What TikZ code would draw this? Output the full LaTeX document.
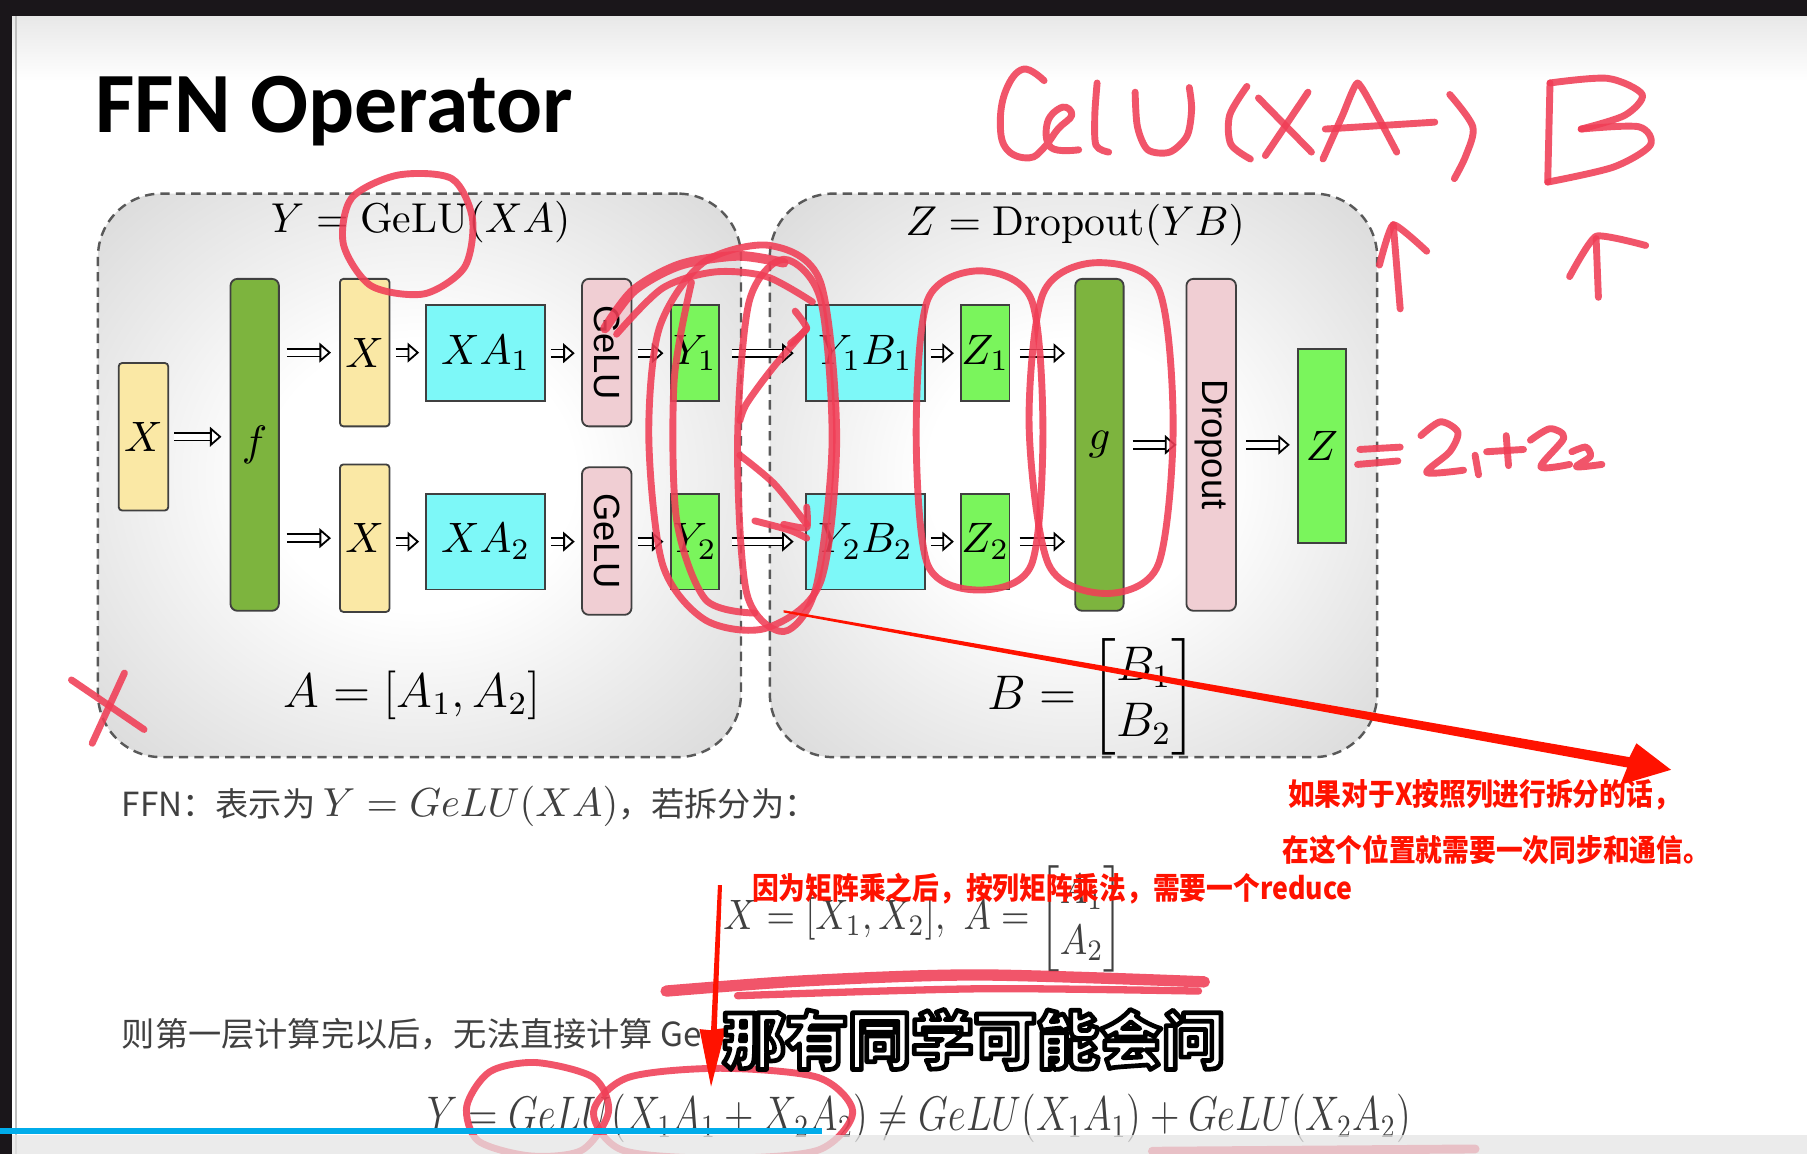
\RequirePackage{fix-cm}
\documentclass[tikz,border=0pt]{standalone}
\usepackage{amsmath}
\usepackage{graphicx}
\usepackage{fontspec}
\setsansfont{Liberation Sans}
\newfontfamily\cjk{Noto Sans CJK SC}
\newfontfamily\titlefont{Carlito}
\usetikzlibrary{arrows.meta}
\definecolor{cyel}{RGB}{250,232,165}
\definecolor{cdg}{RGB}{125,180,62}
\definecolor{ccy}{RGB}{125,248,248}
\definecolor{cpk}{RGB}{240,206,211}
\definecolor{cgr}{RGB}{122,245,92}
\definecolor{hred}{RGB}{240,62,86}
\definecolor{ared}{RGB}{255,18,0}
\definecolor{cblue}{RGB}{0,172,234}
\definecolor{cbar}{RGB}{26,22,26}
\pgfdeclareradialshading{boxshade}{\pgfpoint{0bp}{0bp}}{color(0bp)=(white); color(12bp)=(white); color(42bp)=(black!19); color(60bp)=(black!34)}
\newcommand\outl[1]{\special{pdf:literal direct 0 G 1 g 2 Tr 1.15 w 1 j}#1\special{pdf:literal direct 0 Tr}}
\begin{document}
\begin{tikzpicture}[x=0.1mm,y=-0.1mm,
  nb/.style={draw=black!75, line width=0.45pt, inner sep=0pt, font=\fontsize{10.5}{12}\selectfont},
  yel/.style={nb, fill=cyel, minimum width=4.3mm, minimum height=12.8mm, rounded corners=0.3mm},
  cyb/.style={nb, fill=ccy, minimum width=10.3mm, minimum height=8.3mm},
  pkb/.style={nb, fill=cpk, minimum width=4.3mm, minimum height=12.8mm, rounded corners=0.6mm, font=\sffamily\fontsize{9}{10}\selectfont},
  grb/.style={nb, fill=cgr, minimum width=4.2mm, minimum height=8.3mm},
  tallg/.style={nb, fill=cdg, minimum width=4.2mm, minimum height=28.8mm, rounded corners=0.6mm},
  imp/.style={double=white, double distance=0.5mm, line width=0.45pt, -{Triangle[open, fill=white, length=1.0mm, width=1.7mm, line width=0.45pt]}, shorten <=0.45mm, shorten >=0.55mm},
  dbox/.style={draw=black!65, dashed, dash pattern=on 2.3pt off 1.5pt, line width=0.6pt, rounded corners=5.5mm, shading=boxshade, inner sep=0pt},
  hw/.style={draw=hred, line width=1.7pt, line cap=round, line join=round, opacity=0.88},
  atext/.style={text=ared, inner sep=0pt, font=\cjk\bfseries\fontsize{7.5}{9}\selectfont},
  body/.style={text=black!75, inner sep=0pt, font=\cjk\fontsize{8.2}{10}\selectfont}]
\useasboundingbox (0,0) rectangle (1568,1001);
\fill[white] (0,0) rectangle (1568,1001);
\shade[top color=black!9, bottom color=white] (10,14) rectangle (1568,70);
\fill[cbar] (0,0) rectangle (1568,14);
\fill[cbar] (0,0) rectangle (10,1001);
\draw[black!25, line width=0.6pt] (14,14) -- (14,1001);

% title
\node[anchor=base west, inner sep=0pt, font=\titlefont\bfseries\fontsize{21.2}{24}\selectfont] (title) at (82,115) {FFN Operator};

% dashed boxes
\node[dbox, minimum width=55.8mm, minimum height=48.9mm] (boxl) at (364,412.5) {};
\node[dbox, minimum width=52.7mm, minimum height=48.9mm] (boxr) at (931.5,412.5) {};

\node[inner sep=0pt, font=\fontsize{10.3}{12}\selectfont] (tl) at (365,193) {$Y = \mathrm{GeLU}(XA)$};
\node[inner sep=0pt, font=\fontsize{10.3}{12}\selectfont] (tr) at (933,195) {$Z = \mathrm{Dropout}(YB)$};
\node[inner sep=0pt, font=\fontsize{12}{14}\selectfont] (al) at (358,603) {$A = [A_1, A_2]$};
\node[inner sep=0pt, font=\fontsize{12}{14}\selectfont] (bm) at (948,605) {$B = \begin{bmatrix}B_1\\B_2\end{bmatrix}$};

% left nodes
\node[yel] (xin) at (124.5,379) {$X$};
\node[tallg] (f) at (221,386) {$f$};
\node[yel] (x1) at (316.5,306) {$X$};
\node[yel] (x2) at (316.5,467) {$X$};
\node[cyb] (xa1) at (421.5,306.5) {$XA_1$};
\node[cyb] (xa2) at (421.5,470) {$XA_2$};
\node[pkb] (ge1) at (526.5,306) {\rotatebox{-90}{GeLU}};
\node[pkb] (ge2) at (526.5,469.5) {\rotatebox{-90}{GeLU}};
\node[grb] (y1) at (603,306.5) {$Y_1$};
\node[grb] (y2) at (603,470) {$Y_2$};
% right nodes
\node[cyb] (yb1) at (751,306.5) {$Y_1B_1$};
\node[cyb] (yb2) at (751,470) {$Y_2B_2$};
\node[grb] (z1) at (855,306.5) {$Z_1$};
\node[grb] (z2) at (855,470) {$Z_2$};
\node[tallg] (g) at (954,386) {$g$};
\node[pkb, minimum height=28.8mm] (drop) at (1051,386) {\rotatebox{-90}{Dropout}};
\node[grb, minimum height=16.8mm] (z) at (1147,387) {$Z$};

% arrows
\draw[imp, shorten >=0.7mm] (xin.east) -- (xin.east -| f.west);
\draw[imp, shorten <=0.6mm, shorten >=0.7mm] (f.east |- x1) -- (x1.west);
\draw[imp, shorten <=0.6mm, shorten >=0.7mm] (f.east |- x2) -- (x2.west);
\draw[imp] (x1.east) -- (x1.east -| xa1.west);
\draw[imp] (x2.east |- xa2) -- (xa2.west);
\draw[imp] (xa1.east) -- (xa1.east -| ge1.west);
\draw[imp] (xa2.east) -- (xa2.east -| ge2.west);
\draw[imp] (ge1.east |- y1) -- (y1.west);
\draw[imp] (ge2.east |- y2) -- (y2.west);
\draw[imp, shorten <=1mm, shorten >=1mm] (y1.east) -- (yb1.west);
\draw[imp, shorten <=1mm, shorten >=1mm] (y2.east) -- (yb2.west);
\draw[imp] (yb1.east) -- (z1.west);
\draw[imp] (yb2.east) -- (z2.west);
\draw[imp, shorten <=0.8mm, shorten >=0.8mm] (z1.east) -- (z1.east -| g.west);
\draw[imp, shorten <=0.8mm, shorten >=0.8mm] (z2.east) -- (z2.east -| g.west);
\draw[imp, shorten <=0.7mm, shorten >=0.8mm] (g.east) -- (drop.west);
\draw[imp, shorten <=0.8mm, shorten >=0.6mm] (drop.east) -- (drop.east -| z.west);

% body text
\node[body, anchor=west] (l1) at (105,700) {FFN：表示为 {\fontsize{10}{12}\selectfont$Y = GeLU(XA)$}，若拆分为：};
\node[anchor=west, inner sep=0pt, text=black!75, font=\fontsize{10.5}{12.6}\selectfont] (eqm) at (627,797) {\scalebox{0.86}[1]{$X = [X_1, X_2],\ A = \begin{bmatrix}A_1\\A_2\end{bmatrix}$}};
\node[body, anchor=west] (l2) at (105,897) {则第一层计算完以后，无法直接计算 Ge};
\node[anchor=west, inner sep=0pt, text=black!75, font=\fontsize{12}{14}\selectfont] (eqb) at (370,970) {\scalebox{0.795}[1]{$Y = GeLU(X_1A_1 + X_2A_2) \neq GeLU(X_1A_1) + GeLU(X_2A_2)$}};

% handwriting: GeLU(XA)B
\draw[hw] plot[smooth, tension=0.7] coordinates {(906,70) (888,60) (873,78) (868,108) (874,130) (893,137) (906,128) (918,112) (930,100) (922,93) (909,106) (912,128) (936,130)};
\draw[hw] plot[smooth] coordinates {(952,72) (950,100) (951,126) (962,132)};
\draw[hw] plot[smooth] coordinates {(985,80) (987,110) (996,130) (1015,132) (1030,118) (1034,95) (1032,76)};
\draw[hw] plot[smooth] coordinates {(1082,75) (1067,100) (1068,125) (1085,138)};
\draw[hw] (1092,85) -- (1138,132);
\draw[hw] (1135,80) -- (1098,135);
\draw[hw] plot[smooth, tension=0.3] coordinates {(1148,138) (1165,100) (1178,72) (1195,100) (1212,132)};
\draw[hw] (1150,112) -- (1245,106);
\draw[hw] plot[smooth] coordinates {(1258,82) (1278,110) (1272,135) (1262,155)};
\draw[hw] (1345,72) -- (1343,158);
\draw[hw] plot[smooth] coordinates {(1345,72) (1395,68) (1425,82) (1410,100) (1372,112)};
\draw[hw] plot[smooth] coordinates {(1372,112) (1422,110) (1432,126) (1400,145) (1343,158)};
% up arrows
\draw[hw] (1215,268) -- (1209,195);
\draw[hw] plot[smooth, tension=0.3] coordinates {(1197,230) (1209,195) (1238,218)};
\draw[hw] (1387,258) -- (1385,207);
\draw[hw] plot[smooth, tension=0.3] coordinates {(1362,240) (1385,205) (1428,213)};
% = Z1 + Z2
\draw[hw] (1180,390) -- (1215,388);
\draw[hw] (1178,403) -- (1213,400);
\draw[hw] plot[smooth] coordinates {(1233,378) (1250,366) (1265,375) (1258,392) (1238,410) (1270,408)};
\draw[hw] (1280,395) -- (1283,412);
\draw[hw] (1290,392) -- (1322,390);
\draw[hw] (1307,378) -- (1309,404);
\draw[hw] plot[smooth] coordinates {(1328,382) (1345,372) (1357,380) (1337,405) (1362,403)};
\draw[hw] plot[smooth] coordinates {(1364,392) (1376,388) (1380,396) (1368,405) (1390,403)};
% circle around GeLU title
\draw[hw] plot[smooth cycle] coordinates {(345,152) (392,155) (410,190) (403,232) (368,255) (322,248) (298,212) (305,172)};
% red x
\draw[hw] (62,590) -- (125,633);
\draw[hw] (108,584) -- (80,645);
% scribbles around Y column
\draw[hw] plot[smooth cycle] coordinates {(610,228) (668,213) (712,245) (726,380) (712,505) (665,545) (612,538) (575,490) (563,380) (572,285)};
\draw[hw, line width=2.4pt] plot[smooth] coordinates {(525,285) (550,252) (590,230) (640,222) (680,228)};
\draw[hw] plot[smooth] coordinates {(535,290) (575,250) (620,236) (665,240) (705,262)};
\draw[hw] plot[smooth cycle] coordinates {(680,225) (712,260) (722,385) (708,510) (680,548) (648,515) (640,385) (650,262)};
\draw[hw] plot[smooth] coordinates {(600,245) (585,330) (587,450) (612,520) (655,532)};
\draw[hw] plot[smooth] coordinates {(700,285) (670,320) (648,350) (642,365)};
\draw[hw] plot[smooth, tension=0.3] coordinates {(686,298) (700,285) (690,270)};
\draw[hw] plot[smooth] coordinates {(642,395) (672,420) (700,455)};
\draw[hw] plot[smooth, tension=0.3] coordinates {(680,455) (700,458) (700,440)};
\draw[hw] plot[smooth] coordinates {(655,452) (685,460) (700,467)};
% ellipses right box
\draw[hw] plot[smooth cycle] coordinates {(850,235) (895,260) (905,375) (895,490) (850,512) (805,490) (795,375) (805,260)};
\draw[hw] plot[smooth cycle] coordinates {(950,228) (1005,250) (1018,370) (1005,490) (960,515) (910,490) (893,370) (905,255)};
% underline
\draw[hw, line width=2.8pt] plot[smooth] coordinates {(578,860) (700,851) (850,846) (1045,852)};
\draw[hw, line width=1.8pt] plot[smooth] coordinates {(640,864) (850,858) (1040,860)};
% bottom loops
\draw[hw] plot[smooth cycle] coordinates {(465,922) (515,935) (528,965) (505,998) (460,1003) (415,990) (405,960) (425,930)};
\draw[hw] plot[smooth cycle] coordinates {(625,927) (710,935) (740,965) (710,998) (625,1005) (540,998) (515,965) (545,935)};
\draw[hw, line width=2.2pt] (1000,999) -- (1280,997);

% red straight arrows
\fill[ared] (680,529.5) -- (1414,657) -- (1420,645) -- (1450,668) -- (1406,681) -- (1412,666) -- (680,531.5) -- cycle;
\fill[ared] (623,768) -- (626.5,768) -- (622,893) -- (630,892) -- (617,943) -- (607,893) -- (617,894) -- cycle;

% red typed notes
\node[atext, anchor=west] (n1) at (1117,690) {\scalebox{0.88}[1]{如果对于X按照列进行拆分的话，}};
\node[atext, anchor=west] (n2) at (1112,737) {\scalebox{0.88}[1]{在这个位置就需要一次同步和通信。}};
\node[atext, anchor=west] (n3) at (652,771) {\scalebox{0.88}[1]{因为矩阵乘之后，按列矩阵乘法，需要一个reduce}};

% subtitle
\node[inner sep=0pt, font=\cjk\bfseries\fontsize{15.5}{18}\selectfont] (sub) at (845,902) {\outl{那有同学可能会问}};

% player bar
\fill[black!10, opacity=0.75] (10,985) rectangle (1568,1001);
\fill[cblue] (0,979) rectangle (713,984);
\end{tikzpicture}
\end{document}
